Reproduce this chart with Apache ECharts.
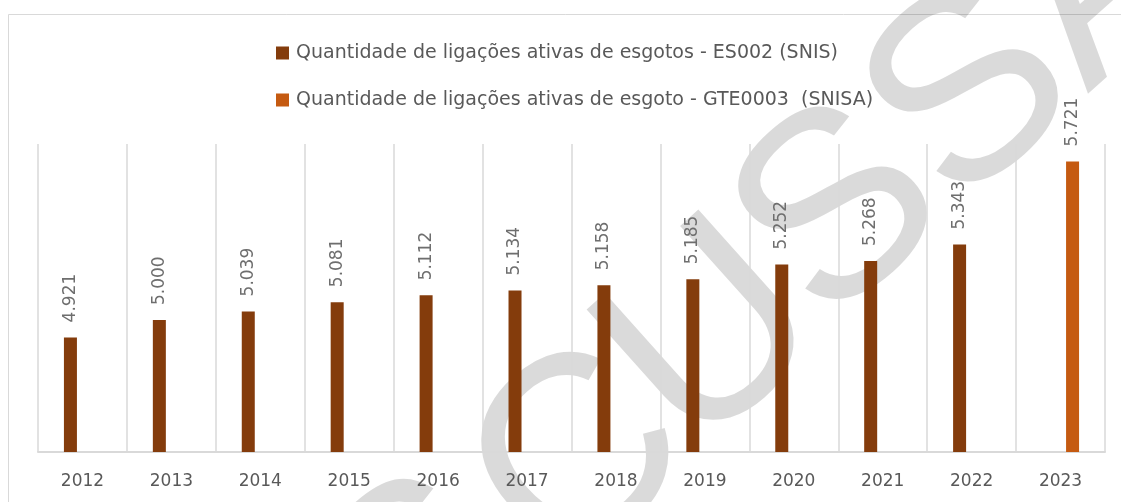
<!DOCTYPE html>
<html>
<head>
<meta charset="utf-8">
<script src="https://cdn.jsdelivr.net/npm/echarts@6/dist/echarts.min.js"></script>
<style>
html,body{margin:0;padding:0;background:#fff;}
#chart{width:1121px;height:502px;}
</style>
</head>
<body>
<div id="chart"></div>
<script>
const years = ['2012','2013','2014','2015','2016','2017','2018','2019','2020','2021','2022','2023'];
const seriesNames = [
  'Quantidade de ligações ativas de esgotos - ES002 (SNIS)',
  'Quantidade de ligações ativas de esgoto - GTE0003  (SNISA)'
];
const es002 = [4.921, 5.000, 5.039, 5.081, 5.112, 5.134, 5.158, 5.185, 5.252, 5.268, 5.343, null];
const gte0003 = [null, null, null, null, null, null, null, null, null, null, null, 5.721];
const watermarkText = 'DISCUSSÃO';

// watermark letter offsets along its rotated baseline (decoration only)
const wmOffsets = [[-682,0],[-550,0],[-426,0],[-227,12],[-46,8],[132,0],[308,0],[484,0],[675,0]];
const wmChildren = watermarkText.split('').map((ch, i) => ({
  type: 'text',
  x: wmOffsets[i][0],
  y: wmOffsets[i][1],
  silent: true,
  style: {
    text: ch,
    fontFamily: 'Liberation Sans',
    fontSize: 264,
    fill: 'rgba(0,0,0,0.145)',
    textAlign: 'center',
    textVerticalAlign: 'middle'
  }
}));

const chart = echarts.init(document.getElementById('chart'), null, {renderer: 'canvas'});
const labelCfg = {
  show: true,
  position: 'top',
  rotate: 90,
  align: 'left',
  verticalAlign: 'middle',
  distance: 15,
  color: '#6E6E6E',
  fontFamily: 'DejaVu Sans',
  fontSize: 17,
  formatter: p => p.value == null ? '' : Number(p.value).toFixed(3)
};
chart.setOption({
  animation: false,
  backgroundColor: '#fff',
  graphic: [{
    type: 'rect',
    shape: {x: 8.5, y: 14.5, width: 1200, height: 600},
    style: {fill: 'none', stroke: '#D9D9D9', lineWidth: 1},
    silent: true,
    z: -1
  }, {
    type: 'group',
    x: 744,
    y: 304,
    rotation: 0.73,
    silent: true,
    z: 100,
    children: wmChildren
  }],
  legend: {
    orient: 'vertical',
    left: 276,
    top: 41,
    padding: 0,
    icon: 'rect',
    itemWidth: 13,
    itemHeight: 13,
    itemGap: 23,
    textStyle: {color: '#595959', fontSize: 19, fontFamily: 'DejaVu Sans', lineHeight: 24, padding: [0,0,0,2]},
    data: seriesNames
  },
  grid: {left: 38, right: 16, top: 144, bottom: 50, containLabel: false},
  xAxis: {
    type: 'category',
    data: years,
    boundaryGap: true,
    axisLine: {show: true, lineStyle: {color: '#D9D9D9', width: 2}},
    axisTick: {show: false},
    splitLine: {show: true, lineStyle: {color: '#D9D9D9', width: 1.5}},
    axisLabel: {color: '#595959', fontSize: 17, fontFamily: 'DejaVu Sans', margin: 21}
  },
  yAxis: {
    type: 'value',
    min: 4.4,
    max: 5.8,
    interval: 0.2,
    show: false,
    splitLine: {show: false}
  },
  series: [
    {
      name: seriesNames[0],
      type: 'bar',
      data: es002,
      barWidth: 13,
      barGap: '85%',
      itemStyle: {color: '#843C0C'},
      label: labelCfg
    },
    {
      name: seriesNames[1],
      type: 'bar',
      data: gte0003,
      barWidth: 13,
      barGap: '85%',
      itemStyle: {color: '#C55A11'},
      label: labelCfg
    }
  ]
});
</script>
</body>
</html>
